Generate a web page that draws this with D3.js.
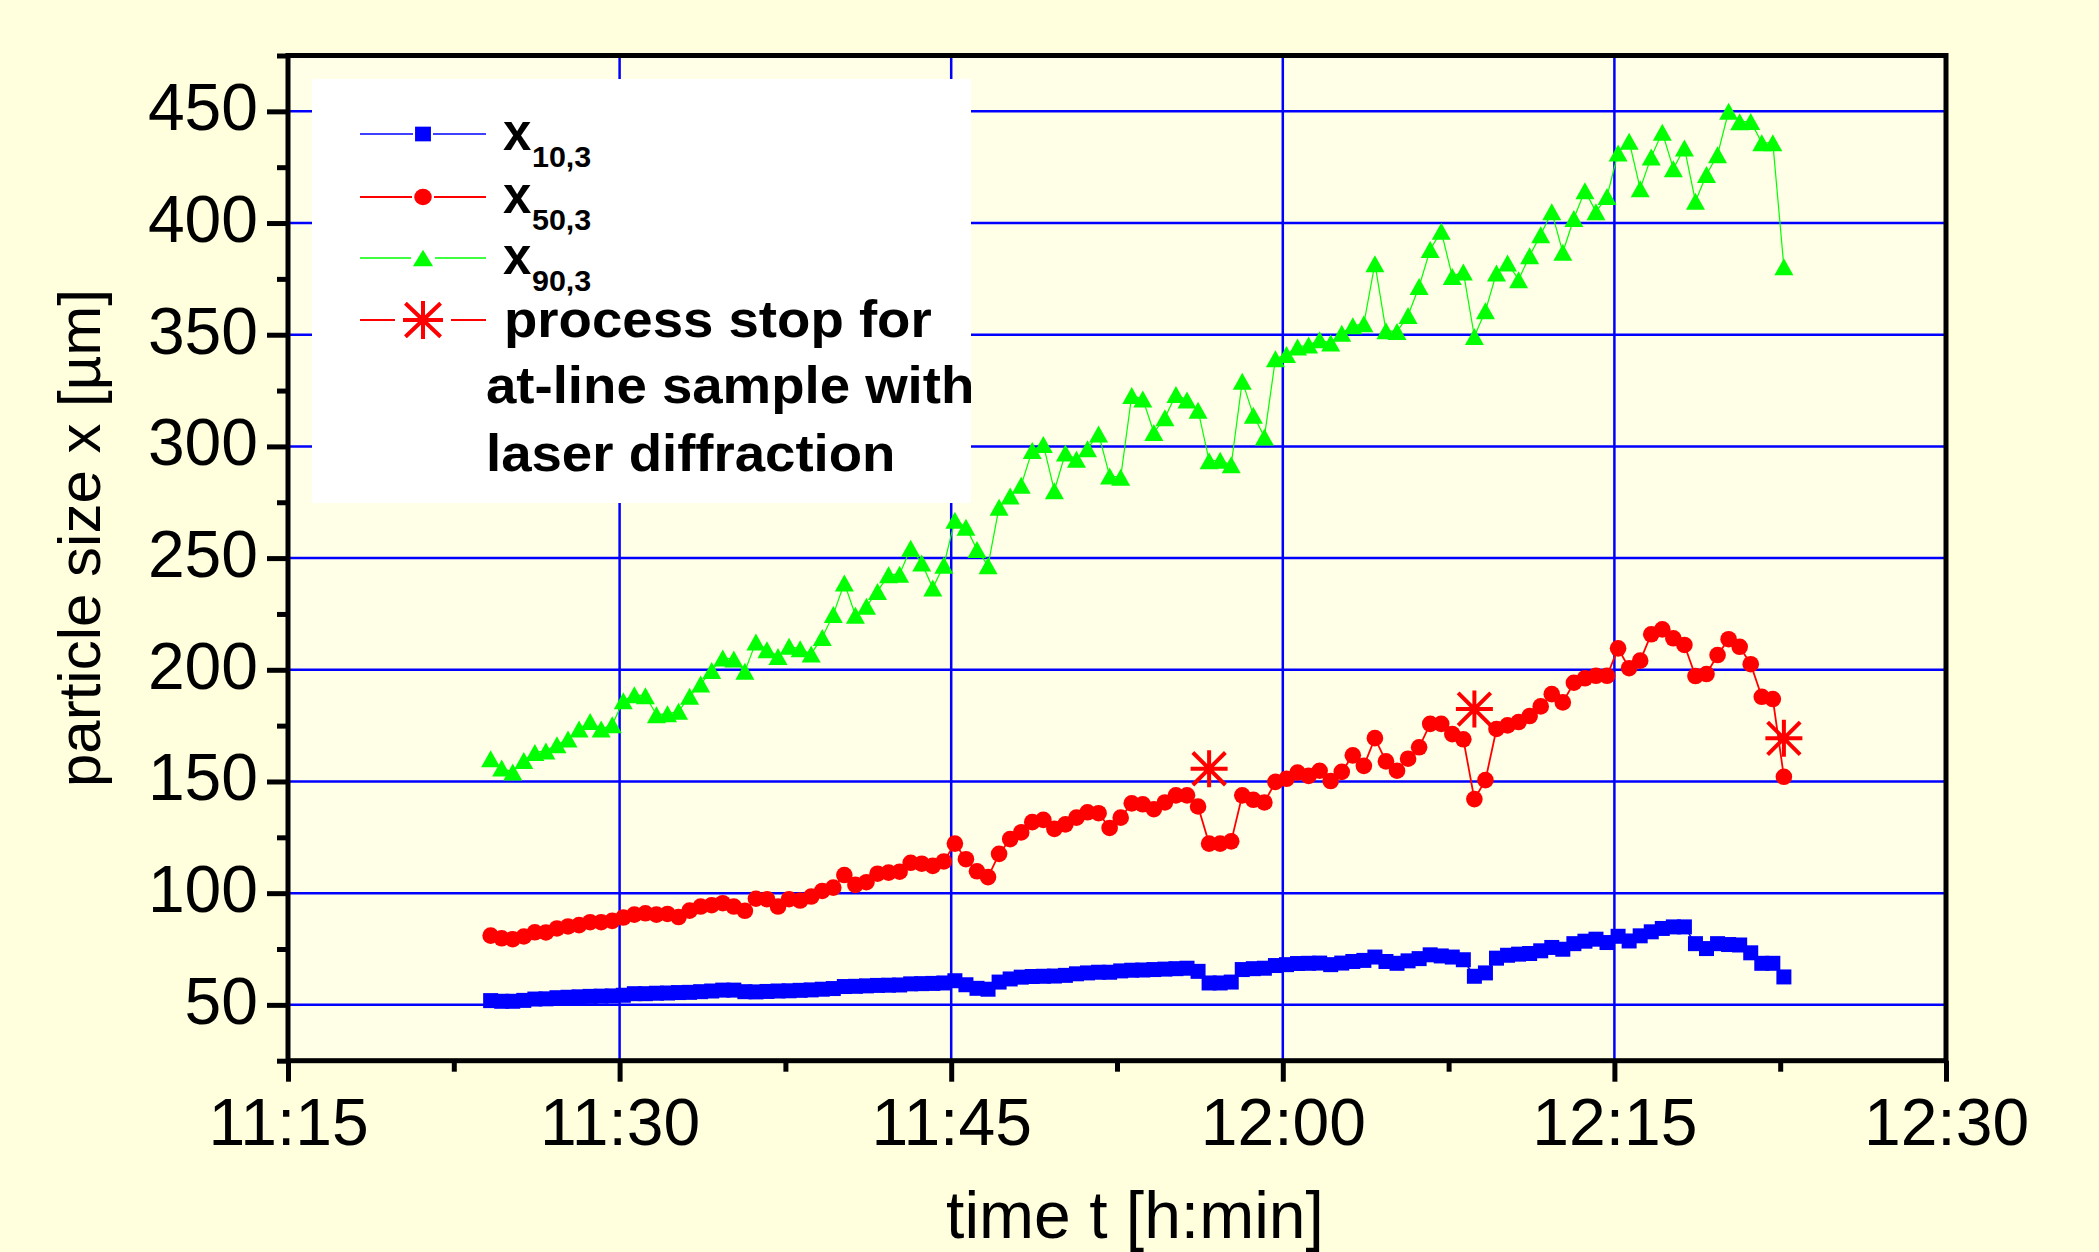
<!DOCTYPE html>
<html>
<head>
<meta charset="utf-8">
<title>Particle size during granulation</title>
<script src="https://cdn.jsdelivr.net/npm/d3@7"></script>
<style>
  html, body { margin: 0; padding: 0; background: #ffffdd; }
  svg { display: block; font-family: "Liberation Sans", Arial, sans-serif; }
</style>
</head>
<body>
<svg id="chart" width="2099" height="1252"></svg>
<script>
// measurement times, one in-line measurement every 30 s
const sampleTimes = [
  "11:24:10", "11:24:40", "11:25:10", "11:25:40", "11:26:10", "11:26:40", "11:27:10", "11:27:40", "11:28:10", "11:28:40",
  "11:29:10", "11:29:40", "11:30:10", "11:30:40", "11:31:10", "11:31:40", "11:32:10", "11:32:40", "11:33:10", "11:33:40",
  "11:34:10", "11:34:40", "11:35:10", "11:35:40", "11:36:10", "11:36:40", "11:37:10", "11:37:40", "11:38:10", "11:38:40",
  "11:39:10", "11:39:40", "11:40:10", "11:40:40", "11:41:10", "11:41:40", "11:42:10", "11:42:40", "11:43:10", "11:43:40",
  "11:44:10", "11:44:40", "11:45:10", "11:45:40", "11:46:10", "11:46:40", "11:47:10", "11:47:40", "11:48:10", "11:48:40",
  "11:49:10", "11:49:40", "11:50:10", "11:50:40", "11:51:10", "11:51:40", "11:52:10", "11:52:40", "11:53:10", "11:53:40",
  "11:54:10", "11:54:40", "11:55:10", "11:55:40", "11:56:10", "11:56:40", "11:57:10", "11:57:40", "11:58:10", "11:58:40",
  "11:59:10", "11:59:40", "12:00:10", "12:00:40", "12:01:10", "12:01:40", "12:02:10", "12:02:40", "12:03:10", "12:03:40",
  "12:04:10", "12:04:40", "12:05:10", "12:05:40", "12:06:10", "12:06:40", "12:07:10", "12:07:40", "12:08:10", "12:08:40",
  "12:09:10", "12:09:40", "12:10:10", "12:10:40", "12:11:10", "12:11:40", "12:12:10", "12:12:40", "12:13:10", "12:13:40",
  "12:14:10", "12:14:40", "12:15:10", "12:15:40", "12:16:10", "12:16:40", "12:17:10", "12:17:40", "12:18:10", "12:18:40",
  "12:19:10", "12:19:40", "12:20:10", "12:20:40", "12:21:10", "12:21:40", "12:22:10", "12:22:40"
];

// x10,3 [µm]
const x10 = [
  51.9, 51.6, 51.6, 52.0, 52.6, 52.7, 53.2, 53.4, 53.6, 53.8,
  53.9, 54.0, 54.3, 55.0, 55.0, 55.2, 55.3, 55.5, 55.6, 55.9,
  56.2, 56.6, 56.6, 55.9, 55.8, 56.0, 56.2, 56.3, 56.5, 56.7,
  57.0, 57.3, 58.2, 58.3, 58.5, 58.7, 58.8, 58.9, 59.4, 59.5,
  59.6, 59.8, 60.8, 59.0, 57.4, 57.0, 60.2, 61.6, 62.4, 62.7,
  62.8, 62.9, 63.2, 63.9, 64.3, 64.6, 64.6, 65.2, 65.5, 65.6,
  65.8, 66.0, 66.2, 66.4, 65.0, 59.8, 59.8, 60.2, 65.8, 66.2,
  66.4, 67.6, 68.0, 68.5, 68.6, 68.7, 68.0, 68.7, 69.4, 69.9,
  71.4, 69.4, 68.6, 69.7, 70.7, 72.4, 71.9, 71.4, 70.2, 62.8,
  64.3, 70.9, 72.2, 72.7, 73.0, 74.2, 75.7, 74.9, 77.4, 78.5,
  79.4, 77.9, 80.7, 78.6, 80.9, 82.7, 84.2, 84.9, 84.9, 77.4,
  75.2, 77.4, 77.0, 76.8, 73.3, 68.6, 68.6, 62.5
];

// x50,3 [µm]
const x50 = [
  81.0, 79.8, 79.4, 80.6, 82.5, 82.4, 84.2, 85.1, 85.7, 87.0,
  87.0, 87.6, 89.1, 90.4, 91.0, 90.4, 90.7, 89.3, 92.2, 94.0,
  94.6, 95.5, 94.0, 92.1, 97.5, 97.3, 94.0, 97.3, 96.7, 98.5,
  101.0, 102.5, 108.1, 103.7, 104.9, 108.7, 109.2, 109.6, 113.6, 113.2,
  112.2, 114.2, 122.2, 115.2, 109.8, 107.2, 117.6, 124.2, 127.2, 131.8,
  132.8, 128.8, 130.8, 133.8, 136.2, 135.8, 129.2, 133.8, 140.2, 139.8,
  137.6, 140.6, 143.8, 143.8, 138.8, 122.2, 122.2, 123.2, 143.8, 141.8,
  140.6, 149.8, 151.2, 154.0, 152.5, 154.8, 150.2, 154.3, 161.7, 157.0,
  169.4, 159.0, 154.8, 160.2, 165.3, 175.8, 175.8, 171.2, 168.9, 142.1,
  150.6, 173.5, 175.1, 176.6, 179.3, 183.6, 189.1, 185.4, 194.2, 196.2,
  197.3, 197.3, 209.6, 200.7, 204.1, 215.9, 218.1, 214.1, 211.1, 197.2,
  198.1, 206.6, 213.7, 210.3, 202.5, 187.9, 186.9, 152.1
];

// x90,3 [µm]
const x90 = [
  160.2, 156.0, 154.2, 159.4, 163.0, 163.7, 166.4, 169.0, 173.5, 176.9,
  173.5, 175.4, 186.1, 188.8, 188.4, 179.9, 180.3, 181.4, 188.1, 193.6,
  199.7, 205.3, 204.8, 199.3, 212.4, 209.0, 206.0, 210.5, 209.4, 207.1,
  214.5, 224.7, 238.8, 224.4, 228.4, 235.1, 242.5, 242.8, 254.4, 247.8,
  236.6, 246.8, 267.0, 263.8, 253.8, 246.6, 272.8, 277.8, 282.6, 298.2,
  300.8, 280.2, 297.0, 294.2, 299.0, 305.6, 286.8, 286.2, 322.8, 321.2,
  306.2, 312.8, 323.2, 320.8, 316.2, 293.6, 293.8, 291.8, 329.2, 314.0,
  304.2, 339.2, 341.2, 344.5, 345.4, 347.7, 346.3, 350.7, 354.0, 354.9,
  381.8, 351.8, 351.4, 358.6, 371.6, 388.1, 396.3, 376.1, 378.1, 349.2,
  360.7, 377.6, 382.1, 374.6, 385.4, 394.8, 405.0, 386.9, 402.0, 414.5,
  405.0, 411.9, 431.4, 436.6, 415.4, 429.6, 440.6, 424.3, 433.6, 409.7,
  421.7, 430.6, 450.0, 445.3, 445.5, 435.9, 435.9, 380.4
];

// process stops for at-line laser diffraction samples
const stopTimes = ["11:56:40", "12:08:40", "12:22:40"];
const stopValues = [155.7, 182.4, 169.3];

// axis ticks
const xTicks = ["11:15", "11:30", "11:45", "12:00", "12:15", "12:30"];
const xMinorTicks = ["11:22:30", "11:37:30", "11:52:30", "12:07:30", "12:22:30"];
const yTicks = [50, 100, 150, 200, 250, 300, 350, 400, 450];
const yMinorTicks = [25, 75, 125, 175, 225, 275, 325, 375, 425, 475];

const parseTime = d3.timeParse("%H:%M:%S");
const parseHM = d3.timeParse("%H:%M");

class ParticleSizeChart {
    constructor(svgId) {
        this.svg = d3.select(svgId);
        this.plot = { left: 288, right: 1946, top: 55.5, bottom: 1060.7 };
        this.x = d3.scaleTime()
            .domain([parseHM("11:15"), parseHM("12:30")])
            .range([this.plot.left, this.plot.right]);
        this.y = d3.scaleLinear()
            .domain([25, 475])
            .range([this.plot.bottom, this.plot.top]);
        this.initVis();
    }

    initVis() {
        this.svg.append("rect")
            .attr("width", 2099).attr("height", 1252)
            .attr("fill", "#ffffdd");

        this.svg.append("rect")
            .attr("x", this.plot.left).attr("y", this.plot.top)
            .attr("width", this.plot.right - this.plot.left)
            .attr("height", this.plot.bottom - this.plot.top)
            .attr("fill", "#fffee6");

        this.drawGrid();
        this.drawLegend();
        this.drawSeries();
        this.drawAxes();
    }

    drawGrid() {
        const g = this.svg.append("g").attr("stroke", "#0000ff").attr("stroke-width", 2.5);
        g.selectAll("line.h")
            .data(yTicks)
            .join("line")
            .attr("class", "h")
            .attr("x1", this.plot.left).attr("x2", this.plot.right)
            .attr("y1", d => this.y(d)).attr("y2", d => this.y(d));
        g.selectAll("line.v")
            .data(xTicks.slice(1, -1).map(parseHM))
            .join("line")
            .attr("class", "v")
            .attr("y1", this.plot.top).attr("y2", this.plot.bottom)
            .attr("x1", d => this.x(d)).attr("x2", d => this.x(d));
    }

    drawSeries() {
        const times = sampleTimes.map(parseTime);
        const series = [
            { values: x10, color: "#0000ff", width: 1.5, marker: "square" },
            { values: x50, color: "#ff0000", width: 1.8, marker: "circle" },
            { values: x90, color: "#00ff00", width: 1.2, marker: "triangle" }
        ];
        const line = d3.line()
            .x(d => this.x(d.t))
            .y(d => this.y(d.v));

        series.forEach(s => {
            const pts = s.values.map((v, i) => ({ t: times[i], v: v }));
            const g = this.svg.append("g");
            g.append("path")
                .datum(pts)
                .attr("d", line)
                .attr("fill", "none")
                .attr("stroke", s.color)
                .attr("stroke-width", s.width);
            g.selectAll("path.pt")
                .data(pts)
                .join("path")
                .attr("class", "pt")
                .attr("transform", d => `translate(${this.x(d.t)},${this.y(d.v)})`)
                .attr("d", markerPath(s.marker, 1, 1))
                .attr("fill", s.color);
        });

        // asterisks for the process stops
        this.svg.append("g")
            .selectAll("path")
            .data(stopTimes.map((t, i) => ({ t: parseTime(t), v: stopValues[i] })))
            .join("path")
            .attr("transform", d => `translate(${this.x(d.t)},${this.y(d.v)})`)
            .attr("d", asteriskPath(37, 37))
            .attr("fill", "none")
            .attr("stroke", "#ff0000")
            .attr("stroke-width", 4);
    }

    drawAxes() {
        const fontSize = 66;

        // frame
        this.svg.append("rect")
            .attr("x", this.plot.left).attr("y", this.plot.top)
            .attr("width", this.plot.right - this.plot.left)
            .attr("height", this.plot.bottom - this.plot.top)
            .attr("fill", "none")
            .attr("stroke", "#000")
            .attr("stroke-width", 5);

        const xAxis = d3.axisBottom(this.x)
            .tickValues(xTicks.map(parseHM))
            .tickFormat(d3.timeFormat("%H:%M"))
            .tickSize(21).tickSizeOuter(0).tickPadding(16);
        const xMinor = d3.axisBottom(this.x)
            .tickValues(xMinorTicks.map(parseTime))
            .tickFormat("")
            .tickSize(11).tickSizeOuter(0);
        const yAxis = d3.axisLeft(this.y)
            .tickValues(yTicks)
            .tickSize(21).tickSizeOuter(0).tickPadding(9);
        const yMinor = d3.axisLeft(this.y)
            .tickValues(yMinorTicks)
            .tickFormat("")
            .tickSize(11).tickSizeOuter(0);

        const gx = this.svg.append("g").attr("transform", `translate(0,${this.plot.bottom})`).call(xAxis);
        const gxm = this.svg.append("g").attr("transform", `translate(0,${this.plot.bottom})`).call(xMinor);
        const gy = this.svg.append("g").attr("transform", `translate(${this.plot.left},0)`).call(yAxis);
        const gym = this.svg.append("g").attr("transform", `translate(${this.plot.left},0)`).call(yMinor);

        [gx, gxm, gy, gym].forEach(g => {
            g.select(".domain").remove();
            g.selectAll(".tick line").attr("stroke", "#000").attr("stroke-width", 5);
            g.selectAll(".tick text")
                .attr("fill", "#000")
                .style("font-size", `${fontSize}px`)
                .style("font-family", "'Liberation Sans', Arial, sans-serif");
        });
        gy.selectAll(".tick text").attr("dy", "0.28em");

        // axis titles
        this.svg.append("text")
            .attr("transform", "translate(100,538) rotate(-90)")
            .attr("text-anchor", "middle")
            .style("font-size", "60px")
            .text("particle size x [µm]");

        this.svg.append("text")
            .attr("x", 1135).attr("y", 1238)
            .attr("text-anchor", "middle")
            .style("font-size", `${fontSize}px`)
            .text("time t [h:min]");
    }

    drawLegend() {
        const g = this.svg.append("g");
        g.append("rect")
            .attr("x", 312).attr("y", 79)
            .attr("width", 659).attr("height", 424)
            .attr("fill", "#ffffff");

        const items = [
            { sub: "10,3", color: "#0000ff", marker: "square", y: 134, half: 8, width: 1.5 },
            { sub: "50,3", color: "#ff0000", marker: "circle", y: 197, half: 9, width: 2 },
            { sub: "90,3", color: "#00ff00", marker: "triangle", y: 258, half: 10, width: 1.5 },
            { sub: null, color: "#ff0000", marker: "asterisk", y: 320, half: 26, width: 2 }
        ];
        const cx = 423;
        const stretch = 1.05;

        items.forEach(it => {
            g.append("line")
                .attr("x1", 360).attr("x2", cx - it.half - 2)
                .attr("y1", it.y).attr("y2", it.y)
                .attr("stroke", it.color).attr("stroke-width", it.width);
            g.append("line")
                .attr("x1", cx + it.half + 2).attr("x2", 486)
                .attr("y1", it.y).attr("y2", it.y)
                .attr("stroke", it.color).attr("stroke-width", it.width);
            if (it.marker === "asterisk") {
                g.append("path")
                    .attr("transform", `translate(${cx},${it.y})`)
                    .attr("d", asteriskPath(40, 38))
                    .attr("fill", "none").attr("stroke", it.color).attr("stroke-width", 4);
            } else {
                g.append("path")
                    .attr("transform", `translate(${cx},${it.y})`)
                    .attr("d", markerPath(it.marker, 1.06, 0.98))
                    .attr("fill", it.color);
            }
            if (it.sub) {
                g.append("text")
                    .attr("x", 503).attr("y", it.y + 16)
                    .style("font-size", "51px").style("font-weight", "bold")
                    .text("x");
                g.append("text")
                    .attr("transform", `translate(532,${it.y + 33}) scale(${stretch},1)`)
                    .style("font-size", "29px").style("font-weight", "bold")
                    .text(it.sub);
            }
        });

        const lines = [
            { text: "process stop for", x: 504, y: 337 },
            { text: "at-line sample with", x: 486, y: 403 },
            { text: "laser diffraction", x: 486, y: 471 }
        ];
        lines.forEach(l => {
            g.append("text")
                .attr("transform", `translate(${l.x},${l.y}) scale(${stretch},1)`)
                .style("font-size", "52px").style("font-weight", "bold")
                .text(l.text);
        });
    }
}

// marker shapes, sx / sy stretch the basic size
function markerPath(type, sx, sy) {
    if (type === "square") {
        const a = 7.5 * sx, b = 7.5 * sy;
        return `M${-a},${-b}H${a}V${b}H${-a}Z`;
    }
    if (type === "circle") {
        const a = 8.3 * sx, b = 8.3 * sy;
        return `M${-a},0A${a},${b} 0 1,0 ${a},0A${a},${b} 0 1,0 ${-a},0Z`;
    }
    const a = 9.5 * sx, b = 8.5 * sy;
    return `M0,${-b}L${a},${b}L${-a},${b}Z`;
}

function asteriskPath(w, h) {
    const a = w / 2, b = h / 2, da = a * 0.88, db = b * 0.88;
    return `M0,${-b}V${b}M${-a},0H${a}M${-da},${-db}L${da},${db}M${da},${-db}L${-da},${db}`;
}

new ParticleSizeChart("#chart");
</script>
</body>
</html>
